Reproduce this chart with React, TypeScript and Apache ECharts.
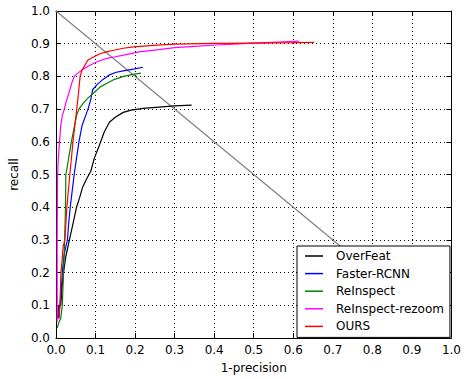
import React, { useEffect, useRef } from "react";
import * as echarts from "echarts";

const seriesNames = ["OverFeat", "Faster-RCNN", "ReInspect", "ReInspect-rezoom", "OURS"];
const seriesColors = ["#000000", "#0000ff", "#008000", "#ff00ff", "#ff0000"];

const overFeat: number[][] = [
  [0.005, 0.06], [0.006, 0.095], [0.012, 0.1], [0.015, 0.15], [0.019, 0.2], [0.025, 0.25],
  [0.034, 0.3], [0.043, 0.35], [0.052, 0.4], [0.06, 0.43], [0.067, 0.46], [0.079, 0.49],
  [0.088, 0.51], [0.097, 0.55], [0.11, 0.59], [0.122, 0.63], [0.135, 0.66], [0.15, 0.675],
  [0.17, 0.69], [0.19, 0.697], [0.22, 0.702], [0.26, 0.706], [0.3, 0.71], [0.343, 0.712],
];
const fasterRcnn: number[][] = [
  [0.006, 0.06], [0.012, 0.12], [0.016, 0.2], [0.02, 0.25], [0.025, 0.28], [0.029, 0.3],
  [0.032, 0.35], [0.036, 0.4], [0.041, 0.45], [0.046, 0.5], [0.052, 0.55], [0.058, 0.6],
  [0.066, 0.65], [0.075, 0.68], [0.081, 0.7], [0.088, 0.73], [0.093, 0.76], [0.104, 0.775],
  [0.118, 0.79], [0.133, 0.803], [0.15, 0.812], [0.17, 0.817], [0.196, 0.822], [0.22, 0.828],
];
const reInspect: number[][] = [
  [0.003, 0.03], [0.008, 0.05], [0.012, 0.06], [0.016, 0.1], [0.019, 0.2], [0.022, 0.3],
  [0.024, 0.4], [0.025, 0.5], [0.028, 0.52], [0.032, 0.55], [0.039, 0.6], [0.047, 0.65],
  [0.052, 0.68], [0.058, 0.7], [0.07, 0.72], [0.082, 0.735], [0.096, 0.75], [0.112, 0.768],
  [0.13, 0.78], [0.146, 0.79], [0.171, 0.8], [0.195, 0.806], [0.215, 0.81],
];
const reInspectRezoom: number[][] = [
  [0.003, 0.05], [0.003, 0.3], [0.004, 0.5], [0.006, 0.55], [0.009, 0.6], [0.012, 0.65],
  [0.016, 0.68], [0.021, 0.7], [0.025, 0.72], [0.033, 0.75], [0.04, 0.78], [0.046, 0.8],
  [0.055, 0.81], [0.067, 0.82], [0.08, 0.83], [0.096, 0.84], [0.11, 0.848], [0.129, 0.855],
  [0.15, 0.86], [0.171, 0.865], [0.21, 0.875], [0.26, 0.882], [0.3, 0.888], [0.35, 0.892],
  [0.405, 0.896], [0.45, 0.899], [0.5, 0.902], [0.56, 0.905], [0.614, 0.908],
];
const ours: number[][] = [
  [0.008, 0.06], [0.01, 0.1], [0.0125, 0.2], [0.015, 0.23], [0.018, 0.28], [0.0225, 0.3],
  [0.0275, 0.4], [0.035, 0.5], [0.043, 0.6], [0.0525, 0.7], [0.057, 0.75], [0.061, 0.8],
  [0.066, 0.82], [0.071, 0.83], [0.081, 0.85], [0.096, 0.86], [0.1125, 0.87], [0.13, 0.876],
  [0.146, 0.88], [0.17, 0.886], [0.196, 0.89], [0.246, 0.895], [0.3, 0.899], [0.4, 0.901],
  [0.5, 0.902], [0.6, 0.903], [0.653, 0.904],
];
const diagonal: number[][] = [[0, 1], [1, 0]];

const seriesData = [overFeat, fasterRcnn, reInspect, reInspectRezoom, ours];

const FONT = "DejaVu Sans";

export default function App() {
  const ref = useRef<HTMLDivElement>(null);
  useEffect(() => {
    document.body.style.margin = "0";
    const chart = echarts.init(ref.current!, null, { renderer: "svg" });
    const tickStyle = { show: true, inside: true, length: 5, lineStyle: { color: "#000", width: 1 } };
    const axisLine = { show: true, onZero: false, lineStyle: { color: "#000", width: 1 } };
    const label = {
      show: true,
      color: "#000",
      fontSize: 12,
      fontFamily: FONT,
      margin: 6,
      formatter: (v: number) => v.toFixed(1),
    };
    const split = { show: true, lineStyle: { color: "#000", type: [1, 3], width: 1 } };
    chart.setOption({
      animation: false,
      grid: { left: 55, right: 10, top: 11, bottom: 36, containLabel: false },
      xAxis: [
        {
          type: "value", min: 0, max: 1, interval: 0.1, position: "bottom",
          axisLine, axisTick: tickStyle, axisLabel: label, splitLine: split,
          name: "1-precision", nameLocation: "middle", nameGap: 24,
          nameTextStyle: { color: "#000", fontSize: 12, fontFamily: FONT },
        },
        {
          type: "value", min: 0, max: 1, interval: 0.1, position: "top",
          axisLine, axisTick: tickStyle, axisLabel: { show: false }, splitLine: { show: false },
        },
      ],
      yAxis: [
        {
          type: "value", min: 0, max: 1, interval: 0.1, position: "left",
          axisLine, axisTick: tickStyle, axisLabel: label, splitLine: split,
          name: "recall", nameLocation: "middle", nameGap: 32,
          nameTextStyle: { color: "#000", fontSize: 12, fontFamily: FONT },
        },
        {
          type: "value", min: 0, max: 1, interval: 0.1, position: "right",
          axisLine, axisTick: tickStyle, axisLabel: { show: false }, splitLine: { show: false },
        },
      ],
      legend: {
        data: seriesNames,
        orient: "vertical",
        left: 297,
        top: 246,
        backgroundColor: "#fff",
        borderColor: "#000",
        borderWidth: 1,
        borderRadius: 0,
        padding: [4, 6, 5, 8],
        icon: "rect",
        itemWidth: 18,
        itemHeight: 1.5,
        itemGap: 5.6,
        textStyle: { color: "#000", fontSize: 12, lineHeight: 12, fontFamily: FONT, padding: [0, 0, 0, 8] },
      },
      series: [
        {
          type: "line", name: "diag", data: diagonal, symbol: "none", silent: true,
          lineStyle: { color: "#808080", width: 1.2 }, itemStyle: { color: "#808080" }, z: 1,
        },
        ...seriesNames.map((n, i) => ({
          type: "line",
          name: n,
          data: seriesData[i],
          symbol: "none",
          lineStyle: { color: seriesColors[i], width: 1.2 },
          itemStyle: { color: seriesColors[i] },
          z: 2 + i,
        })),
      ],
    });
    return () => chart.dispose();
  }, []);
  return <div ref={ref} style={{ width: 464, height: 379 }} />;
}
